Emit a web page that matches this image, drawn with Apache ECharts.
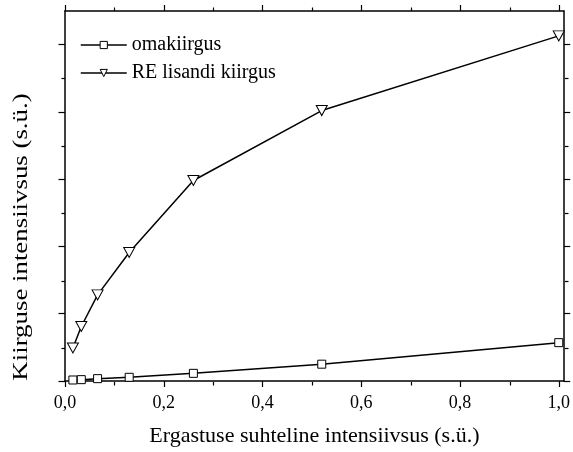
<!DOCTYPE html>
<html>
<head>
<meta charset="utf-8">
<script src="https://cdn.jsdelivr.net/npm/echarts@6/dist/echarts.min.js"></script>
<style>html,body{margin:0;padding:0;background:#fff}#c{width:573px;height:452px}</style>
</head>
<body>
<div id="c"></div>
<script>
// ---- data ----
var xValues = [0.016, 0.033, 0.066, 0.13, 0.26, 0.52, 1.0];
var omaValues = [0.015, 0.02, 0.035, 0.055, 0.114, 0.25, 0.57];
var reValues = [0.49, 0.81, 1.28, 1.91, 2.98, 4.02, 5.13];
var seriesNames = ['omakiirgus', 'RE lisandi kiirgus'];
var xMajorTicks = [0, 0.2, 0.4, 0.6, 0.8, 1.0];
var xMinorTicks = [0.1, 0.3, 0.5, 0.7, 0.9];
var yMajorTicks = [0, 1, 2, 3, 4, 5];
var yMinorTicks = [0.5, 1.5, 2.5, 3.5, 4.5];
var xTitle = 'Ergastuse suhteline intensiivsus (s.ü.)';
var yTitle = 'Kiirguse intensiivsus (s.ü.)';
var xMin = 0, xMax = 1.0101, yMin = 0, yMax = 5.5;

var FONT = '"Liberation Serif", "Times New Roman", serif';
function pairs(xs, ys) { return xs.map(function (x, i) { return [x, ys[i]]; }); }
function fmt(v) { return v.toFixed(1).replace('.', ','); }

var lineCol = '#000';
function xAx(grid, pos, ticks, len, showLine, labels) {
  return {
    type: 'value', gridIndex: grid, position: pos, min: xMin, max: xMax,
    axisLine: { show: showLine, onZero: false, lineStyle: { color: lineCol, width: 1.5 } },
    axisTick: { show: true, inside: false, length: len, customValues: ticks, lineStyle: { color: lineCol, width: 1.2 } },
    axisLabel: labels ? { show: true, customValues: xMajorTicks, formatter: fmt, color: '#000', fontFamily: FONT, fontSize: 18, margin: 13 } : { show: false },
    splitLine: { show: false }, minorTick: { show: false }
  };
}
function yAx(grid, pos, ticks, len, showLine) {
  return {
    type: 'value', gridIndex: grid, position: pos, min: yMin, max: yMax,
    axisLine: { show: showLine, onZero: false, lineStyle: { color: lineCol, width: 1.5 } },
    axisTick: { show: true, inside: false, length: len, customValues: ticks, lineStyle: { color: lineCol, width: 1.2 } },
    axisLabel: { show: false }, splitLine: { show: false }, minorTick: { show: false }
  };
}

var xAxes = [
  xAx(0, 'bottom', xMajorTicks, 6, true, true),
  xAx(0, 'top', xMajorTicks, 6, true, false),
  xAx(1, 'bottom', xMinorTicks, 3.5, false, false),
  xAx(1, 'top', xMinorTicks, 3.5, false, false)
];
xAxes[0].name = xTitle;
xAxes[0].nameLocation = 'middle';
xAxes[0].nameGap = 44;
xAxes[0].nameTextStyle = { color: '#000', fontFamily: FONT, fontSize: 22 };

var yAxes = [
  yAx(0, 'left', yMajorTicks, 6.5, true),
  yAx(0, 'right', yMajorTicks, 6.5, true),
  yAx(1, 'left', yMinorTicks, 3.5, false),
  yAx(1, 'right', yMinorTicks, 3.5, false)
];

var gridBox = { left: 65, top: 11, width: 500, height: 371 };

var option = {
  animation: false,
  backgroundColor: '#fff',
  grid: [Object.assign({}, gridBox), Object.assign({}, gridBox)],
  xAxis: xAxes,
  yAxis: yAxes,
  legend: {
    orient: 'vertical', left: 80, top: 35, itemGap: 8, padding: 0,
    itemWidth: 46, itemHeight: 9,
    itemStyle: { color: '#fff', borderColor: '#000', borderWidth: 1 },
    lineStyle: { color: '#000', width: 1.5 },
    textStyle: { color: '#000', fontFamily: FONT, fontSize: 20 },
    data: seriesNames
  },
  graphic: [{
    type: 'text', x: 21, y: 237, rotation: Math.PI / 2, scaleX: 1.22,
    style: { text: yTitle, fill: '#000', font: '22px ' + FONT, align: 'center', verticalAlign: 'middle' }
  }],
  series: [
    {
      name: seriesNames[0], type: 'line', xAxisIndex: 0, yAxisIndex: 0,
      data: pairs(xValues, omaValues),
      symbol: 'rect', symbolSize: 8,
      itemStyle: { color: '#fff', borderColor: '#000', borderWidth: 1 },
      lineStyle: { color: '#000', width: 1.5 },
      emphasis: { disabled: true }
    },
    {
      name: seriesNames[1], type: 'line', xAxisIndex: 0, yAxisIndex: 0,
      data: pairs(xValues, reValues),
      symbol: 'path://M0,0 L10,0 L5,9 Z', symbolSize: [11, 10],
      itemStyle: { color: '#fff', borderColor: '#000', borderWidth: 1 },
      lineStyle: { color: '#000', width: 1.5 },
      emphasis: { disabled: true }
    }
  ]
};
var chart = echarts.init(document.getElementById('c'), null, { renderer: 'canvas' });
chart.setOption(option);
</script>
</body>
</html>
